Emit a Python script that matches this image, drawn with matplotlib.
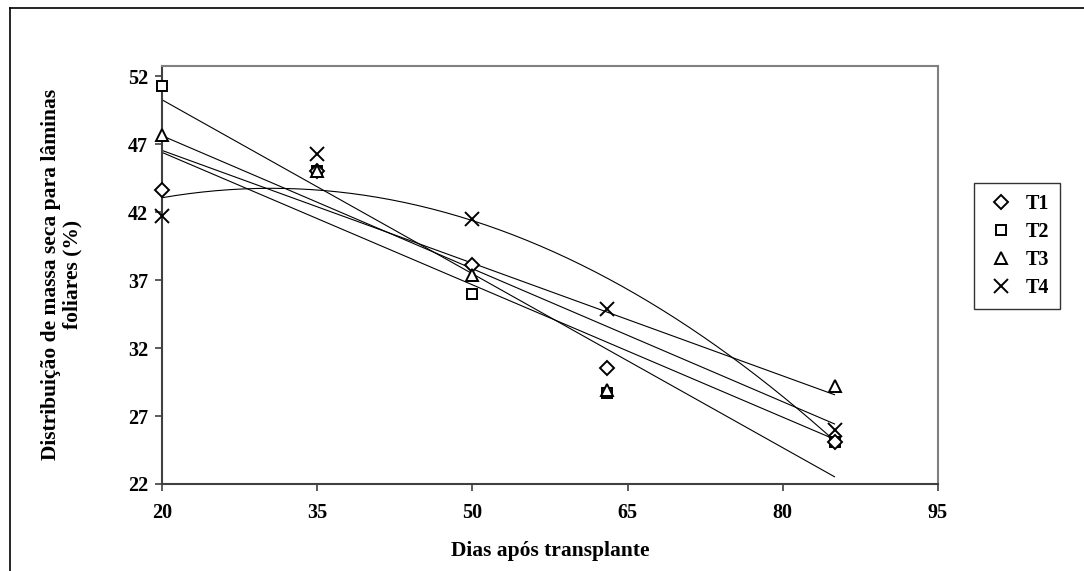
import numpy as np
import matplotlib
matplotlib.use("Agg")
import matplotlib.pyplot as plt

plt.rcParams['font.family'] = ['Liberation Serif', 'DejaVu Serif']
plt.rcParams['font.weight'] = 'bold'

# days after transplanting
dias = [20, 35, 50, 63, 85]
# leaf blade dry mass share (%)
t1 = [43.6, 45.0, 38.1, 30.5, 25.1]
t2 = [51.3, 45.0, 35.95, 28.7, 25.1]
t3 = [47.7, 45.0, 37.4, 28.9, 29.2]
t4 = [41.7, 46.3, 41.5, 34.9, 26.0]

series = [("T1", t1, "D", 7.5, 4), ("T2", t2, "s", 7.5, 3), ("T3", t3, "^", 8.5, 5), ("T4", t4, "x", 10, 6)]

fig = plt.figure(figsize=(10.84, 5.71), dpi=100)
ax = fig.add_axes([0.1494, 0.1524, 0.7159, 0.732])

xs = np.array(dias, dtype=float)
xx = np.linspace(20, 85, 200)
for name, ys, mk, ms, z in series:
    ys = np.array(ys)
    # linear trend line
    k = np.polyfit(xs, ys, 1)
    ax.plot(xx, np.polyval(k, xx), color='black', lw=0.8, zorder=2)
    ax.plot(xs, ys, linestyle='none', marker=mk, markersize=ms,
            markerfacecolor='white' if mk != 'x' else 'black',
            markeredgecolor='black', markeredgewidth=1.4, label=name,
            zorder=z, clip_on=False)

# polynomial trend for T4
k2 = np.polyfit(xs, np.array(t4), 2)
ax.plot(xx, np.polyval(k2, xx), color='black', lw=0.8, zorder=2)

ax.set_xlim(20, 95)
ax.set_ylim(22, 52.75)
ax.set_xticks([20, 35, 50, 65, 80, 95])
ax.set_yticks([22, 27, 32, 37, 42, 47, 52])
ax.tick_params(axis='both', labelsize=14.5, direction='out', length=5, width=1.2, color='#404040', pad=5)
ax.tick_params(axis='x', pad=9)
for lab in ax.get_xticklabels() + ax.get_yticklabels():
    lab.set_fontweight('bold')

for s in ['left', 'bottom']:
    ax.spines[s].set_color('#404040')
    ax.spines[s].set_linewidth(1.5)
for s in ['top', 'right']:
    ax.spines[s].set_color('#808080')
    ax.spines[s].set_linewidth(1.5)

ax.set_xlabel("Dias após transplante", fontsize=15.5, fontweight='bold', labelpad=13)
fig.text(0.057, 0.52, "Distribuição de massa seca para lâminas\nfoliares (%)", rotation=90,
         ha='center', va='center', fontsize=15.5, fontweight='bold', linespacing=1.15)

leg = ax.legend(loc='upper left', bbox_to_anchor=(1.047, 0.72), frameon=True, fancybox=False,
                fontsize=14.5, handletextpad=0.5, borderpad=0.55, labelspacing=0.4,
                handlelength=1.5, borderaxespad=0)
leg.get_frame().set_edgecolor('black')
leg.get_frame().set_linewidth(1.0)
for t in leg.get_texts():
    t.set_fontweight('bold')

# outer chart border
fig.add_artist(plt.Line2D([10/1084, 10/1084], [0, 1 - 8/571], transform=fig.transFigure, color='black', lw=1.2))
fig.add_artist(plt.Line2D([10/1084, 1], [1 - 8/571, 1 - 8/571], transform=fig.transFigure, color='black', lw=1.2))

fig.savefig("out.png", dpi=100)
